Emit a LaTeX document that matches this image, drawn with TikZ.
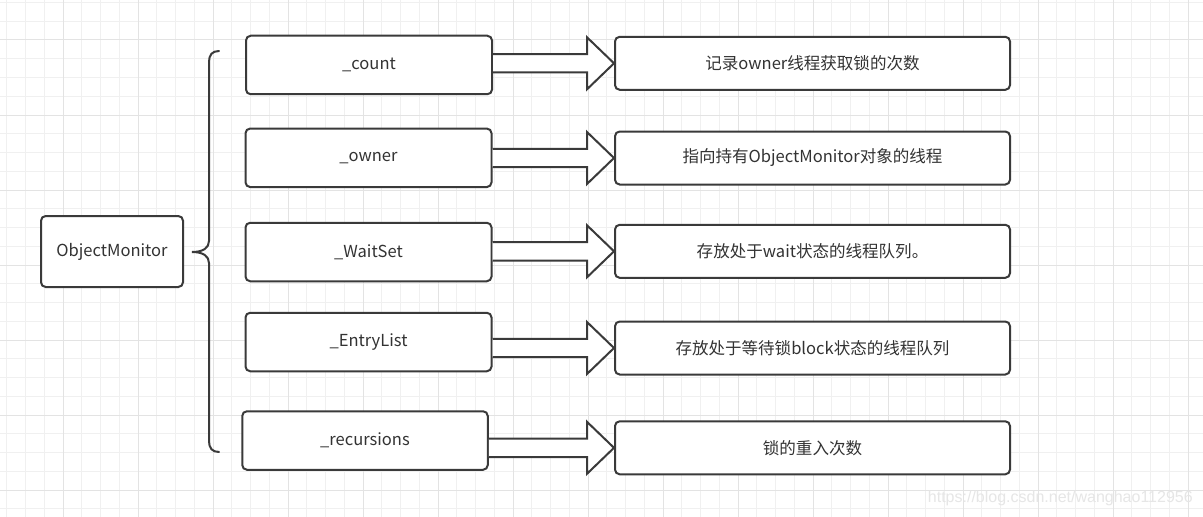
\documentclass[tikz,border=0pt]{standalone}
\usepackage{fontspec}
\setmainfont{Noto Sans CJK SC}
\newfontfamily\wmfont{Liberation Sans}
\usetikzlibrary{calc}
\definecolor{edge}{HTML}{3A3A3A}
\definecolor{txt}{HTML}{333333}
\definecolor{gridminor}{HTML}{F0F0F0}
\definecolor{gridmajor}{HTML}{E3E3E3}
\definecolor{wm}{HTML}{E6E6E6}
\tikzset{
  box/.style={draw=edge, fill=white, line width=1.5pt, rounded corners=3.5pt,
    text=txt, font=\fontsize{12.4}{14}\selectfont, inner sep=0pt},
  lbox/.style={box, minimum width=246*0.75pt, minimum height=58.5*0.75pt},
  rbox/.style={box, minimum width=395*0.75pt, minimum height=53*0.75pt},
  hollow/.style={draw=edge, fill=white, line width=1.5pt, line join=miter},
  bracesty/.style={draw=edge, line width=1.5pt, line cap=round},
}
\newcommand{\fatarrow}[2]{%
  \path (#2.west) coordinate (T);
  \draw[hollow] ($(#1.east|-T)+(0,-9.2)$) -- ($(T)+(-27,-9.2)$) -- ($(T)+(-27,-26)$)
    -- (T) -- ($(T)+(-27,26)$) -- ($(T)+(-27,9.2)$) -- ($(#1.east|-T)+(0,9.2)$);
}
\begin{document}
\begin{tikzpicture}[x=0.75pt,y=-0.75pt]
\useasboundingbox (0,0) rectangle (1203,517);
\fill[white] (0,0) rectangle (1203,517);
% grid
\foreach \i in {0,...,64} {
  \pgfmathsetmacro{\gx}{6.75+18.75*\i}
  \draw[gridminor, line width=0.75pt] (\gx,0) -- (\gx,517);
}
\foreach \i in {0,...,27} {
  \pgfmathsetmacro{\gy}{2.5+18.75*\i}
  \draw[gridminor, line width=0.75pt] (0,\gy) -- (1203,\gy);
}
\foreach \i in {-1,...,15} {
  \pgfmathsetmacro{\gx}{63+75*\i}
  \draw[gridmajor, line width=0.75pt] (\gx,0) -- (\gx,517);
}
\foreach \i in {-1,...,6} {
  \pgfmathsetmacro{\gy}{40+75*\i}
  \draw[gridmajor, line width=0.75pt] (0,\gy) -- (1203,\gy);
}
% root
\node[box, minimum width=142*0.75pt, minimum height=71*0.75pt] (om) at (112,251.5) {ObjectMonitor};
% brace
\draw[bracesty] (219,51) .. controls (212,51) and (209,55) .. (209,62) -- (209,241)
  .. controls (209,248) and (203,252) .. (192,252)
  .. controls (203,252) and (209,256) .. (209,263) -- (209,441)
  .. controls (209,448) and (212,452) .. (219,452);
% left boxes
\node[lbox] (count) at (369,65) {\_count};
\node[lbox] (owner) at (368.5,157.8) {\_owner};
\node[lbox] (waitset) at (368.5,252) {\_WaitSet};
\node[lbox] (entry) at (368.5,342) {\_EntryList};
\node[lbox, minimum width=245.5*0.75pt] (recur) at (365,440.5) {\_recursions};
% right boxes
\node[rbox] (d1) at (812.5,63.3) {记录owner线程获取锁的次数};
\node[rbox] (d2) at (812.5,158) {指向持有ObjectMonitor对象的线程};
\node[rbox] (d3) at (812.5,251.3) {存放处于wait状态的线程队列。};
\node[rbox] (d4) at (812.5,348) {存放处于等待锁block状态的线程队列};
\node[rbox] (d5) at (812.5,447.8) {锁的重入次数};
% arrows
\fatarrow{count}{d1}
\fatarrow{owner}{d2}
\fatarrow{waitset}{d3}
\fatarrow{entry}{d4}
\fatarrow{recur}{d5}
% watermark
\node[text=wm, font=\wmfont\fontsize{12}{14}\selectfont, inner sep=0pt, anchor=east] (wmk) at (1193,498) {https://blog.csdn.net/wanghao112956};
\end{tikzpicture}
\end{document}
